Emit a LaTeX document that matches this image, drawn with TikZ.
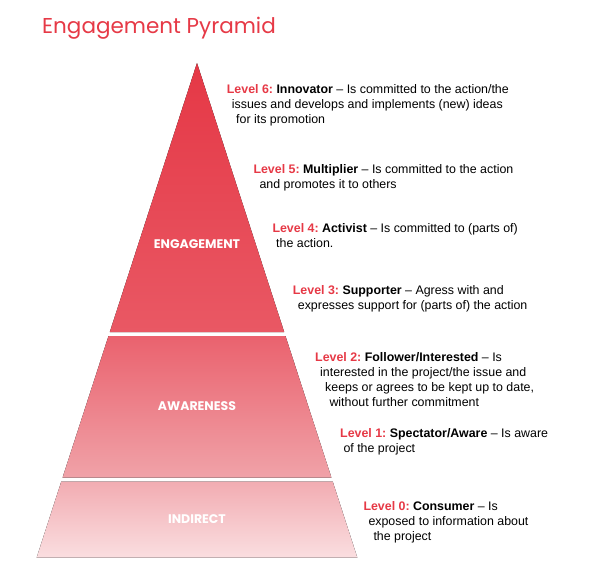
\documentclass[tikz,border=0pt]{standalone}
\usepackage{fontspec}
\setmainfont{Liberation Sans}
\newfontfamily\titlefont{Poppins}
\usepackage{tikz}
\usetikzlibrary{positioning,calc}
\usepackage{xcolor}
\definecolor{pyrred}{RGB}{230,57,70}
\newcommand{\lvl}[2]{\textbf{\color{pyrred}Level #1:} \textbf{#2}}
\frenchspacing

\begin{document}
\begin{tikzpicture}[x=1pt,y=-1pt,
    desc/.style={anchor=base west,align=left,inner sep=0pt,
      font=\fontsize{12.4}{15}\selectfont},
    tier/.style={text=white,font=\titlefont\bfseries\fontsize{12.5}{14}\selectfont}]
  \useasboundingbox (0,0) rectangle (589,568);

  % Title
  \node[anchor=base west,inner sep=0pt,text=pyrred,
    font=\titlefont\fontsize{21.5}{24}\selectfont] (title) at (42,33) {Engagement Pyramid};

  % Pyramid tiers
  \fill[top color={rgb,255:red,229;green,56;blue,70},
    bottom color={rgb,255:red,233;green,88;blue,100}]
    (197,63) -- (284.2,332) -- (109.8,332) -- cycle;
  \fill[top color={rgb,255:red,234;green,98;blue,110},
    bottom color={rgb,255:red,240;green,162;blue,168}]
    (108.5,336) -- (285.5,336) -- (331.4,477.5) -- (62.6,477.5) -- cycle;
  \fill[top color={rgb,255:red,242;green,172;blue,178},
    bottom color={rgb,255:red,250;green,222;blue,224}]
    (61.3,481.5) -- (332.7,481.5) -- (357.3,557.5) -- (36.7,557.5) -- cycle;

  \node[tier] (engage) at (197,243.7) {ENGAGEMENT};
  \node[tier] (aware) at (197,406) {AWARENESS};
  \node[tier] (indirect) at (197,519) {INDIRECT};

  % Level descriptions (anchored at the baseline of the last line)
  \node[desc] (lvl6) at (226.7,123.3) {\lvl{6}{Innovator} -- Is committed to the action/the\\
    \hspace*{5pt}issues and develops and implements (new) ideas\\
    \hspace*{9.3pt}for its promotion};
  \node[desc] (lvl5) at (253.3,188.3) {\lvl{5}{Multiplier} -- Is committed to the action\\
    \hspace*{6pt}and promotes it to others};
  \node[desc] (lvl4) at (272.3,247.7) {\lvl{4}{Activist} -- Is committed to (parts of)\\
    \hspace*{3.7pt}the action.};
  \node[desc] (lvl3) at (292.7,309.3) {\lvl{3}{Supporter} -- Agress with and\\
    \hspace*{5pt}expresses support for (parts of) the action};
  \node[desc] (lvl2) at (315,406) {\lvl{2}{Follower/Interested} -- Is\\
    \hspace*{5pt}interested in the project/the issue and\\
    \hspace*{10pt}keeps or agrees to be kept up to date,\\
    \hspace*{14.3pt}without further commitment};
  \node[desc] (lvl1) at (340,452.7) {\lvl{1}{Spectator/Aware} -- Is aware\\
    \hspace*{3.3pt}of the project};
  \node[desc] (lvl0) at (363.3,540) {\lvl{0}{Consumer} -- Is\\
    \hspace*{5pt}exposed to information about\\
    \hspace*{10pt}the project};
\end{tikzpicture}
\end{document}
